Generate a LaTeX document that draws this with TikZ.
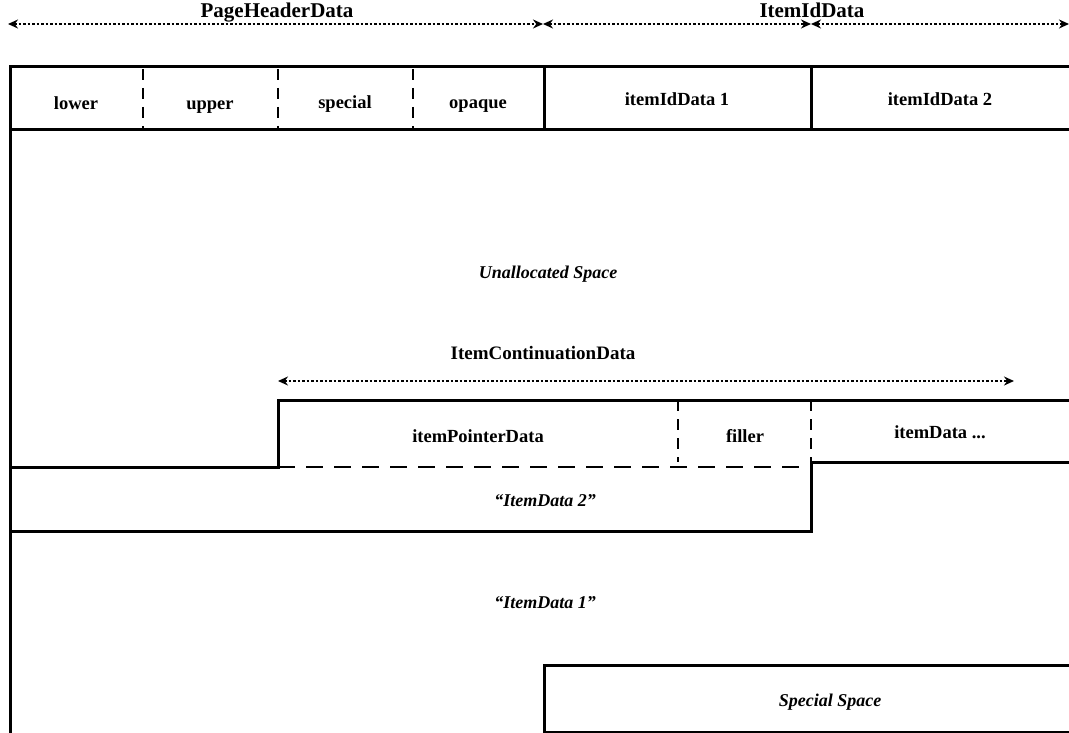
\documentclass[tikz,border=0pt]{standalone}
\usepackage{fontspec}
\setmainfont{Liberation Serif}
\usetikzlibrary{arrows.meta}
\begin{document}
\begin{tikzpicture}[x=1pt,y=-1pt,
 wall/.style={line width=3pt},
 vdash/.style={line width=2.6pt, dash pattern=on 11pt off 8pt},
 hdash/.style={line width=2.6pt, dash pattern=on 17pt off 11pt},
 dim/.style={line width=1.6pt, dash pattern=on 2.5pt off 2pt, >={Stealth[length=10pt,width=9pt]}, <->},
 lab/.style={font=\fontsize{18.5}{20}\selectfont\bfseries, inner sep=0pt, anchor=base},
 ilab/.style={font=\fontsize{18}{20}\selectfont\bfseries\itshape, inner sep=0pt, anchor=base},
 head/.style={font=\fontsize{21}{24}\selectfont\bfseries, inner sep=0pt, anchor=base}]
\useasboundingbox (0,0) rectangle (1069,733);
% coordinates for dimension lines
\coordinate (d0) at (8,24);
\coordinate (d1) at (543,24);
\coordinate (d2) at (811,24);
\coordinate (d3) at (1069,24);
\coordinate (c0) at (278,381);
\coordinate (c1) at (1014,381);
\draw[dim] (d0) -- (d1);
\draw[dim] (d1) -- (d2);
\draw[dim] (d2) -- (d3);
\draw[dim] (c0) -- (c1);
% header row
\draw[wall] (1069,67) -- (10,67) -- (10,733);
\draw[wall] (10,130) -- (1069,130);
\draw[wall] (544,67) -- (544,130);
\draw[wall] (811,67) -- (811,130);
\draw[vdash] (143,69) -- (143,130);
\draw[vdash] (278,69) -- (278,130);
\draw[vdash] (413,69) -- (413,130);
% item continuation
\draw[wall] (1069,400) -- (278,400) -- (278,467) -- (10,467);
\draw[hdash] (278,467) -- (811,467);
\draw[vdash] (678,400) -- (678,462);
\draw[vdash] (811,400) -- (811,462);
\draw[wall] (1069,462) -- (811,462) -- (811,531) -- (10,531);
% special space
\draw[wall] (544,733) -- (544,665) -- (1069,665);
\draw[wall] (544,732) -- (1069,732);
% labels
\node[head] (phd) at (277,18) {PageHeaderData};
\node[head] (iid) at (812,18) {ItemIdData};
\node[lab] (lower) at (76,110) {lower};
\node[lab] (upper) at (210,110) {upper};
\node[lab] (special) at (345,109) {special};
\node[lab] (opaque) at (478,109) {opaque};
\node[lab] (iid1) at (677,106) {itemIdData 1};
\node[lab] (iid2) at (940,106) {itemIdData 2};
\node[ilab] (unalloc) at (548,278) {Unallocated Space};
\node[head, font=\fontsize{19}{22}\selectfont\bfseries] (icd) at (543,359) {ItemContinuationData};
\node[lab] (ipd) at (478,442) {itemPointerData};
\node[lab] (filler) at (745,442) {filler};
\node[lab] (idd) at (940,438) {itemData ...};
\node[ilab] (item2) at (545,506) {``ItemData 2''};
\node[ilab] (item1) at (545,608) {``ItemData 1''};
\node[ilab] (spec) at (830,706) {Special Space};
\end{tikzpicture}
\end{document}
